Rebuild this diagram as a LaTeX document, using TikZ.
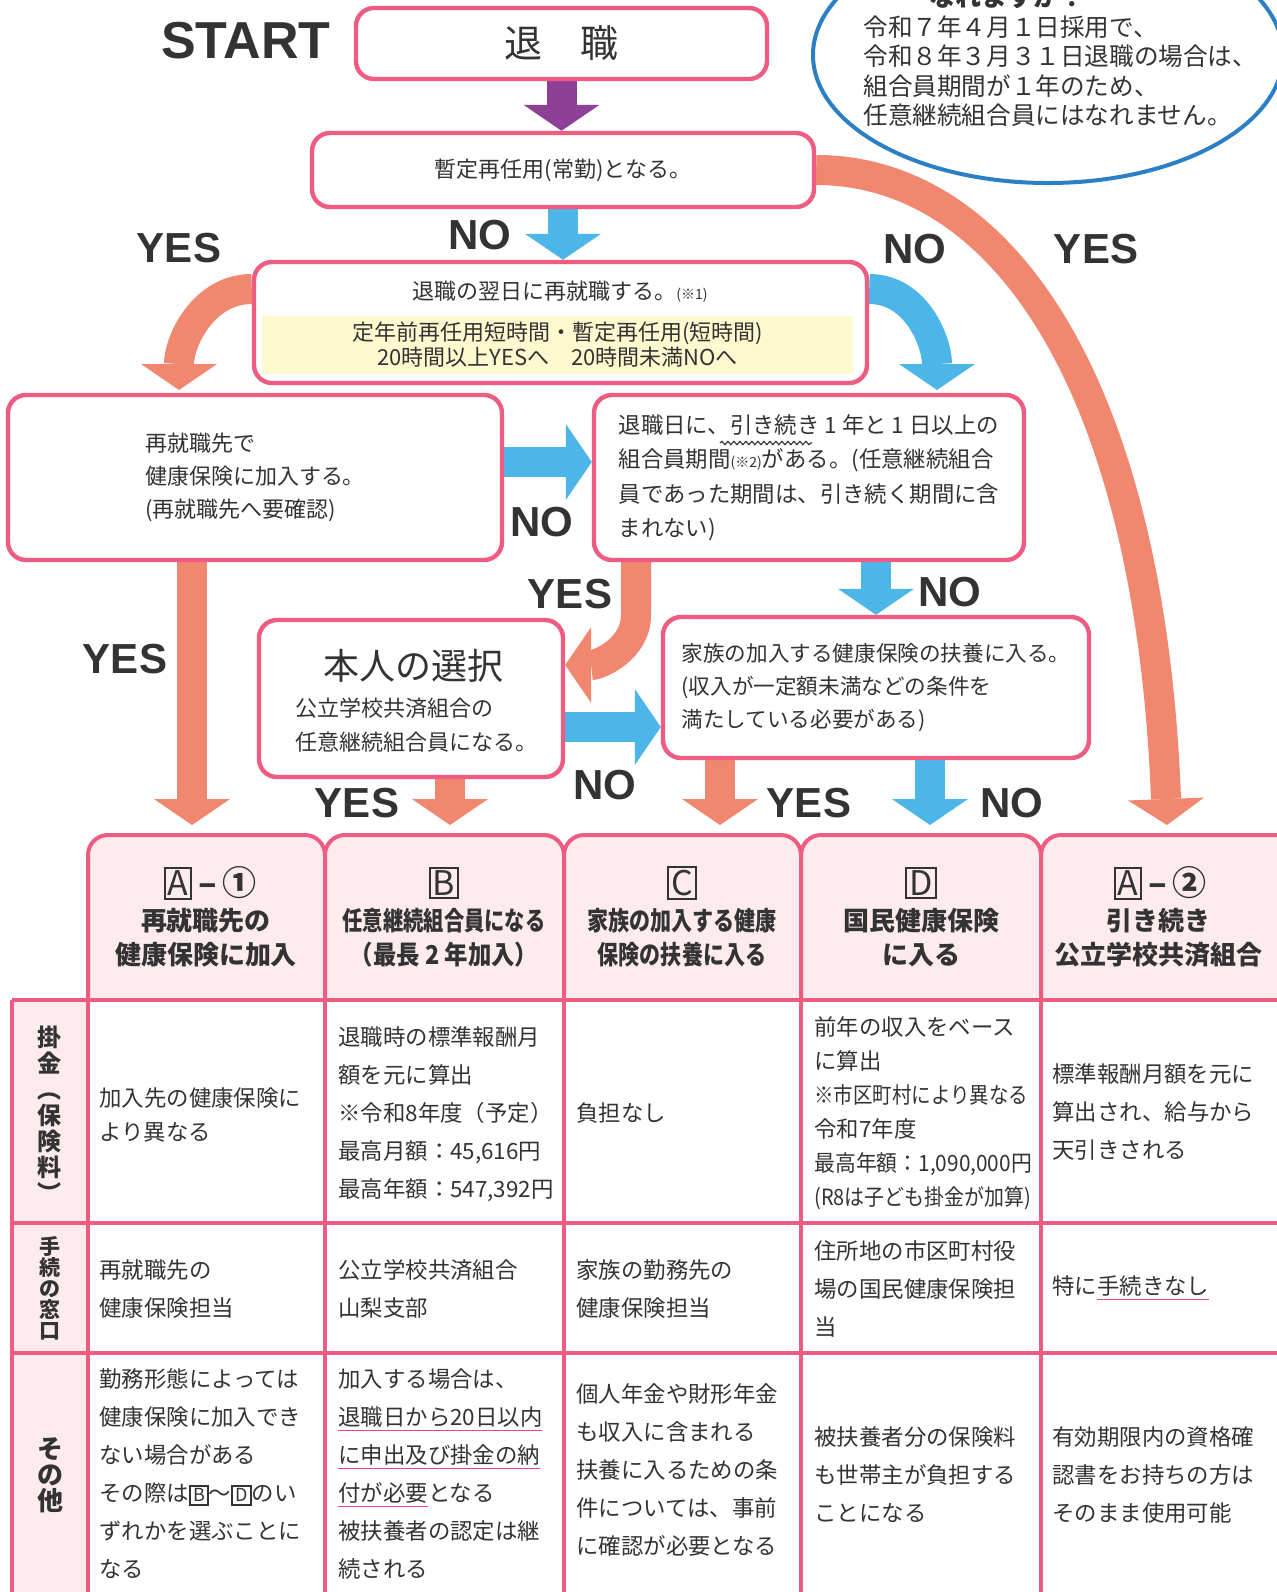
\documentclass[tikz,border=0pt]{standalone}
\usepackage{fontspec}
\setmainfont{Noto Sans CJK JP}
\newfontfamily\latinbold{Liberation Sans}
\usepackage{xcolor}
\usetikzlibrary{arrows.meta,shapes.geometric,decorations.pathmorphing,backgrounds}

\definecolor{pinkline}{HTML}{EE5C82}
\definecolor{salmon}{HTML}{F2876F}
\definecolor{skyblue}{HTML}{4DB6E8}
\definecolor{grape}{HTML}{8E3F96}
\definecolor{paleyellow}{HTML}{FFF9CF}
\definecolor{palepink}{HTML}{FDEBEE}
\definecolor{ovalblue}{HTML}{2B80C5}
\definecolor{ink}{HTML}{333333}
\definecolor{ulpink}{HTML}{E8409A}

\newcommand\bx[1]{{\setlength\fboxsep{1pt}\setlength\fboxrule{1pt}\fbox{#1}}}
\newcommand\pul[1]{\textcolor{ulpink}{\underline{\textcolor{ink}{#1}}}}
\newcommand\narrow[2]{\scalebox{#1}[1]{#2}}

\begin{document}
\begin{tikzpicture}[x=0.5pt,y=-0.5pt,>={Triangle[length=13pt,width=38pt,line width=0pt]}]
  \tikzstyle{flow}=[draw=pinkline, line width=2.2pt, rounded corners=9pt, fill=white, text=ink]
  \tikzstyle{yn}=[text=ink, inner sep=0pt, font=\latinbold\bfseries\fontsize{21}{21}\selectfont]
  \tikzstyle{fatO}=[->, draw=salmon, line width=15pt]
  \tikzstyle{fatB}=[->, draw=skyblue, line width=15pt]
  \tikzstyle{cell}=[anchor=west, align=left, inner sep=0pt, text=ink, font=\fontsize{11.2}{19}\selectfont]
  \tikzstyle{side}=[align=center, inner sep=0pt, text=ink]
  \tikzstyle{head}=[align=center, inner sep=0pt, text=ink, font=\bfseries\fontsize{13}{17}\selectfont]
  \tikzstyle{key}=[inner sep=0pt, text=ink, font=\fontsize{17}{17}\selectfont]
  \tikzstyle{tab}=[draw=pinkline, fill=palepink, line width=2pt, rounded corners=10pt]
  \tikzstyle{grid}=[draw=pinkline, line width=2pt]

  \useasboundingbox (0,0) rectangle (1276,1592);

  % flow chart
  \node[flow, minimum width=205.5pt, minimum height=35.5pt, font=\fontsize{19}{19}\selectfont] (retire) at (561.5,43.5) {退\hspace{1em}職};
  \node[flow, minimum width=251pt, minimum height=37pt, font=\fontsize{11}{11}\selectfont] (rehire) at (563,170) {暫定再任用(常勤)となる。};
  \node[flow, minimum width=306.5pt, minimum height=60.5pt] (nextday) at (560.5,322.5) {};
  \node[text=ink, font=\fontsize{11}{11}\selectfont] (nextdayT) at (560,292) {退職の翌日に再就職する。{\fontsize{7}{7}\selectfont(※1)}};
  \node[fill=paleyellow, minimum width=295.5pt, minimum height=28pt, align=center, text=ink, font=\fontsize{11}{12.5}\selectfont] (hours) at (557.5,345) {定年前再任用短時間・暫定再任用(短時間)\\20時間以上YESへ\quad 20時間未満NOへ};
  \node[flow, minimum width=247pt, minimum height=82.5pt, align=left, font=\fontsize{11}{16.5}\selectfont] (joinjob) at (255,477.5) {再就職先で\\健康保険に加入する。\\(再就職先へ要確認)};
  \node[flow, minimum width=215pt, minimum height=82.5pt, align=left, font=\fontsize{11.2}{17.25}\selectfont] (member) at (809,477.5) {退職日に、引き続き 1 年と 1 日以上の\\組合員期間{\fontsize{7}{7}\selectfont(※2)}がある。(任意継続組合\\員であった期間は、引き続く期間に含\\まれない)};
  \draw[ink, line width=0.6pt, decorate, decoration={snake, amplitude=0.8pt, segment length=3pt}] (720,443) -- (812,443);
  \node[flow, minimum width=152pt, minimum height=78.5pt] (choice) at (411,698.5) {};
  \node[text=ink, inner sep=0pt, font=\fontsize{18}{18}\selectfont] (choiceT) at (413,666) {本人の選択};
  \node[anchor=west, align=left, inner sep=0pt, text=ink, font=\fontsize{11}{17}\selectfont] (choiceS) at (295,725) {公立学校共済組合の\\任意継続組合員になる。};
  \node[flow, minimum width=213pt, minimum height=70.5pt, align=left, font=\fontsize{10.8}{16.5}\selectfont] (family) at (876,687.5) {家族の加入する健康保険の扶養に入る。\\(収入が一定額未満などの条件を\\満たしている必要がある)};

  \node[ellipse, draw=ovalblue, line width=2pt, minimum width=235pt, minimum height=128pt] (oval) at (1048,55) {};
  \node[text=ink, inner sep=0pt, font=\bfseries\fontsize{13}{13}\selectfont] (ovalQ) at (1007,-3) {なれますか？};
  \node[anchor=west, align=left, inner sep=0pt, text=ink, font=\fontsize{12.3}{14.7}\selectfont] (ovalT) at (863,71) {令和７年４月１日採用で、\\令和８年３月３１日退職の場合は、\\組合員期間が１年のため、\\任意継続組合員にはなれません。};

  \node[yn, font=\latinbold\bfseries\fontsize{26}{26}\selectfont] (start) at (246,41) {START};
  \node[yn] (no1) at (480,235) {NO};
  \node[yn] (yes1) at (179,248) {YES};
  \node[yn] (no2) at (915,249) {NO};
  \node[yn] (yes2) at (1096,249) {YES};
  \node[yn] (no3) at (542,522) {NO};
  \node[yn] (yes3) at (570,594) {YES};
  \node[yn] (no4) at (950,592) {NO};
  \node[yn] (yes4) at (125,659) {YES};
  \node[yn] (no5) at (605,785) {NO};
  \node[yn] (yes5) at (357,803) {YES};
  \node[yn] (yes6) at (809,803) {YES};
  \node[yn] (no6) at (1012,803) {NO};

  \coordinate (toA1) at (192,825);
  \coordinate (toB) at (450,825);
  \coordinate (toC) at (720,825);
  \coordinate (toD) at (930,825);
  \coordinate (toA2) at (1167,825);

  \begin{scope}[on background layer]
    \fill[white] (0,0) rectangle (1276,1592);
    \draw[->, draw=grape, line width=15pt] (retire.south) -- (retire.south |- rehire.north);
    \draw[fatB] (rehire.south) -- (rehire.south |- nextday.north);
    \draw[fatO] (nextday.west |- 0,289) to[out=180,in=90] (179,390);
    \draw[fatB] (nextday.east |- 0,289) to[out=0,in=90] (937,390);
    \draw[fatO] (rehire.east) .. controls (1000,170) and (1150,380) .. (toA2);
    \draw[fatB] (joinjob.east |- 0,462) -- (member.west |- 0,462);
    \draw[fatO] (member.south -| 636,0) -- (636,615) to[out=-90,in=0] (choice.east |- 0,665);
    \draw[fatB] (family.north |- member.south) -- (family.north);
    \draw[fatB] (choice.east |- 0,727) -- (family.west |- 0,727);
    \draw[fatO] (joinjob.south -| toA1) -- (toA1);
    \draw[fatO] (choice.south -| toB) -- (toB);
    \draw[fatO] (family.south -| toC) -- (toC);
    \draw[fatB] (family.south -| toD) -- (toD);
  \end{scope}

  % table
  \filldraw[tab] (88,1000) -- (88,835) -- (325,835) -- (325,1000);
  \filldraw[tab] (325,1000) -- (325,835) -- (564,835) -- (564,1000);
  \filldraw[tab] (564,1000) -- (564,835) -- (801,835) -- (801,1000);
  \filldraw[tab] (801,1000) -- (801,835) -- (1041,835) -- (1041,1000);
  \filldraw[tab] (1041,1000) -- (1041,835) -- (1310,835) -- (1310,1000);
  \fill[palepink] (12,1000) rectangle (88,1600);
  \draw[grid] (12,1000) -- (1290,1000) (12,1223) -- (1290,1223) (12,1353) -- (1290,1353);
  \draw[grid] (12,1000) -- (12,1600) (88,1000) -- (88,1600) (325,1000) -- (325,1600)
    (564,1000) -- (564,1600) (801,1000) -- (801,1600) (1041,1000) -- (1041,1600);

  \node[key] (keyA1) at (210,883) {\bx{A}\,\textbf{–}\,\textbf{①}};
  \node[key] (keyB) at (444,883) {\bx{B}};
  \node[key] (keyC) at (682,883) {\bx{C}};
  \node[key] (keyD) at (921,883) {\bx{D}};
  \node[key] (keyA2) at (1160,883) {\bx{A}\,\textbf{–}\,\textbf{②}};
  \node[head] (headA1) at (206,938) {再就職先の\\健康保険に加入};
  \node[head] (headB) at (444,938) {\narrow{0.78}{任意継続組合員になる}\\\narrow{0.9}{（最長 2 年加入）}};
  \node[head] (headC) at (682,938) {\narrow{0.81}{家族の加入する健康}\\\narrow{0.81}{保険の扶養に入る}};
  \node[head] (headD) at (921,938) {国民健康保険\\に入る};
  \node[head] (headA2) at (1158,938) {引き続き\\公立学校共済組合};

  \node[side, font=\bfseries\fontsize{12}{13}\selectfont] (sideFee) at (50,1114) {掛\\金\\︵\\保\\険\\料\\︶};
  \node[side, font=\bfseries\fontsize{10.5}{10.5}\selectfont] (sideDesk) at (50,1288) {手\\続\\の\\窓\\口};
  \node[side, font=\bfseries\fontsize{13}{13}\selectfont] (sideEtc) at (50,1475) {そ\\の\\他};

  \node[cell, font=\fontsize{11.2}{17}\selectfont] (feeA1) at (99,1115) {加入先の健康保険に\\より異なる};
  \node[cell] (feeB) at (338,1114) {退職時の標準報酬月\\額を元に算出\\※令和8年度（予定）\\最高月額：45,616円\\最高年額：547,392円};
  \node[cell] (feeC) at (576,1113) {負担なし};
  \node[cell, font=\fontsize{11.2}{17}\selectfont] (feeD) at (814,1113) {前年の収入をベース\\に算出\\\narrow{0.87}{※市区町村により異なる}\\令和7年度\\\narrow{0.93}{最高年額：1,090,000円}\\\narrow{0.89}{(R8は子ども掛金が加算)}};
  \node[cell] (feeA2) at (1052,1112) {標準報酬月額を元に\\算出され、給与から\\天引きされる};

  \node[cell] (deskA1) at (99,1289) {再就職先の\\健康保険担当};
  \node[cell] (deskB) at (338,1289) {公立学校共済組合\\山梨支部};
  \node[cell] (deskC) at (576,1289) {家族の勤務先の\\健康保険担当};
  \node[cell] (deskD) at (814,1289) {住所地の市区町村役\\場の国民健康保険担\\当};
  \node[cell] (deskA2) at (1052,1288) {特に\pul{手続きなし}};

  \node[cell] (etcA1) at (99,1474) {勤務形態によっては\\健康保険に加入でき\\ない場合がある\\その際は{\fontsize{9}{9}\selectfont\bx{B}}～{\fontsize{9}{9}\selectfont\bx{D}}のい\\ずれかを選ぶことに\\なる};
  \node[cell] (etcB) at (338,1474) {加入する場合は、\\\pul{退職日から20日以内}\\\pul{に申出及び掛金の納}\\\pul{付が必要}となる\\被扶養者の認定は継\\続される};
  \node[cell] (etcC) at (576,1470) {個人年金や財形年金\\も収入に含まれる\\扶養に入るための条\\件については、事前\\に確認が必要となる};
  \node[cell] (etcD) at (814,1475) {被扶養者分の保険料\\も世帯主が負担する\\ことになる};
  \node[cell] (etcA2) at (1052,1475) {有効期限内の資格確\\認書をお持ちの方は\\そのまま使用可能};
\end{tikzpicture}
\end{document}
